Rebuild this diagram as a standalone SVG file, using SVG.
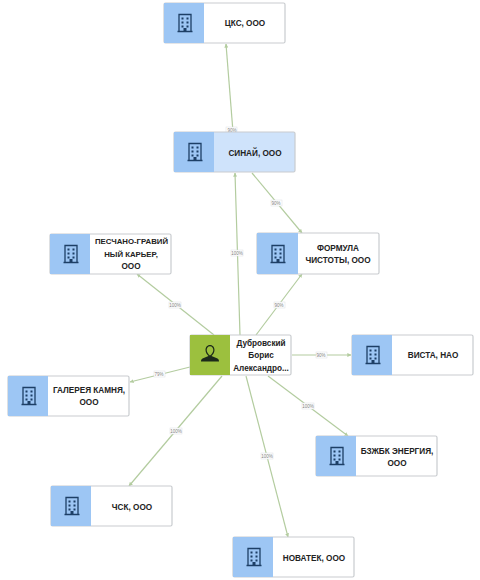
<svg xmlns="http://www.w3.org/2000/svg" width="480" height="580" viewBox="0 0 480 580">
<style>
.box{fill:#fff;stroke:#c9cccf;stroke-width:1.2}
.sel{fill:#cfe3fb}
.pane{fill:#9dc6f4}
.pers{fill:#9cc03e}
.t{font:bold 8.200px "Liberation Sans",Arial,sans-serif;fill:#222;text-anchor:middle}
.e{stroke:#b3cc9f;stroke-width:1.2;fill:none;marker-end:url(#a)}
.lb{fill:#fff;stroke:#dcdfe2;stroke-width:.5}
.lt{font:4.500px "Liberation Sans",Arial,sans-serif;fill:#808080;text-anchor:middle}
</style>
<defs>
<marker id="a" viewBox="0 0 6 6" refX="5.500" refY="3" markerWidth="4" markerHeight="4" markerUnits="userSpaceOnUse" orient="auto"><path d="M0 0L6 3L0 6z" fill="#b3cc9f"/></marker>
<symbol id="b" viewBox="0 0 16 20" overflow="visible">
<path d="M2 1.500h12v17h-12zM0.500 18.500h15" fill="none" stroke="#1d3f66" stroke-width="1.300"/>
<path d="M4.500 4.500h2v2h-2zM9.500 4.500h2v2h-2zM4.500 8.500h2v2h-2zM9.500 8.500h2v2h-2zM4.500 12.500h2v2h-2zM9.500 12.500h2v2h-2z" fill="#1d3f66"/>
<path d="M6.500 18v-3h3v3" fill="#1d3f66"/>
</symbol>
</defs>
<rect width="480" height="580" fill="#fff"/>
<g id="connectors">
<path class="e" d="M233 132L226 44"/>
<path class="e" d="M240 335L235 173"/>
<path class="e" d="M252 173L302 233"/>
<path class="e" d="M256 335L302 274"/>
<path class="e" d="M214 335L137 274"/>
<path class="e" d="M190 367L130 382"/>
<path class="e" d="M292 355L351 355"/>
<path class="e" d="M268 376L348 436"/>
<path class="e" d="M222 376L129 486"/>
<path class="e" d="M246 376L288 537"/>
<g>
<rect class="lb" x="226" y="127" width="11" height="6"/><text class="lt" x="232" y="131.500">90%</text>
<rect class="lb" x="231" y="250" width="12" height="6"/><text class="lt" x="237" y="254.500">100%</text>
<rect class="lb" x="271" y="200" width="11" height="6"/><text class="lt" x="276" y="204.500">90%</text>
<rect class="lb" x="274" y="302" width="11" height="6"/><text class="lt" x="279" y="306.500">90%</text>
<rect class="lb" x="169" y="302" width="12" height="6"/><text class="lt" x="175" y="306.500">100%</text>
<rect class="lb" x="154" y="371" width="11" height="6"/><text class="lt" x="159" y="375.500">79%</text>
<rect class="lb" x="316" y="352" width="11" height="6"/><text class="lt" x="321" y="356.500">90%</text>
<rect class="lb" x="302" y="403" width="12" height="6"/><text class="lt" x="308" y="407.500">100%</text>
<rect class="lb" x="170" y="428" width="12" height="6"/><text class="lt" x="176" y="432.500">100%</text>
<rect class="lb" x="261" y="453" width="12" height="6"/><text class="lt" x="267" y="457.500">100%</text>
</g>
</g>
<g id="n-cks"><rect class="box" x="164" y="3" width="121" height="40" rx="1.500"/><rect class="pane" x="164" y="3" width="40" height="40"/><use href="#b" x="177" y="13" width="16" height="20"/><text class="t" x="245" y="26">ЦКС, ООО</text></g>
<g id="n-sinai"><rect class="box sel" x="174" y="132" width="121" height="40" rx="1.500"/><rect class="pane" x="174" y="132" width="40" height="40"/><use href="#b" x="187" y="142" width="16" height="20"/><text class="t" x="255" y="156">СИНАЙ, ООО</text></g>
<g id="n-pesch"><rect class="box" x="50" y="234" width="121" height="40" rx="1.500"/><rect class="pane" x="50" y="234" width="40" height="40"/><use href="#b" x="63" y="244" width="16" height="20"/><text class="t" x="131.500" y="244" style="font-size:7.800px">ПЕСЧАНО-ГРАВИЙ</text><text class="t" x="131" y="256.500" style="font-size:7.800px">НЫЙ КАРЬЕР,</text><text class="t" x="131" y="269">ООО</text></g>
<g id="n-formula"><rect class="box" x="257" y="233" width="122" height="41" rx="1.500"/><rect class="pane" x="257" y="233" width="41" height="41"/><use href="#b" x="270" y="244" width="16" height="20"/><text class="t" x="338" y="251">ФОРМУЛА</text><text class="t" x="338" y="263">ЧИСТОТЫ, ООО</text></g>
<g id="n-person"><rect class="box" x="190" y="335" width="101" height="40" rx="1.500"/><rect class="pers" x="190" y="335" width="40" height="40"/><path fill-rule="evenodd" d="M210 345c-3 0-4.500 2.500-4.500 5s1.500 4.500 3 6l-6 2.500c-1.500.6-1.500 2.500-1.500 3h18c0-.5 0-2.400-1.500-3l-6-2.500c1.500-1.500 3-3.500 3-6s-1.500-5-4.500-5zm0 1.200c2.200 0 3.300 2 3.300 3.800s-1.500 4.500-3.300 5.500c-1.800-1-3.300-3.700-3.300-5.500s1.100-3.800 3.300-3.800z" fill="#1c2a1a"/><text class="t" x="261" y="346">Дубровский</text><text class="t" x="261" y="358">Борис</text><text class="t" x="261" y="371">Александро...</text></g>
<g id="n-vista"><rect class="box" x="352" y="335" width="121" height="40" rx="1.500"/><rect class="pane" x="352" y="335" width="40" height="40"/><use href="#b" x="365" y="345" width="16" height="20"/><text class="t" x="433" y="358">ВИСТА, НАО</text></g>
<g id="n-galereya"><rect class="box" x="8" y="376" width="121" height="40" rx="1.500"/><rect class="pane" x="8" y="376" width="40" height="40"/><use href="#b" x="21" y="386" width="16" height="20"/><text class="t" x="89" y="393">ГАЛЕРЕЯ КАМНЯ,</text><text class="t" x="89" y="405">ООО</text></g>
<g id="n-bzhbk"><rect class="box" x="316" y="436" width="121" height="40" rx="1.500"/><rect class="pane" x="316" y="436" width="40" height="40"/><use href="#b" x="329" y="446" width="16" height="20"/><text class="t" x="397" y="454">БЗЖБК ЭНЕРГИЯ,</text><text class="t" x="397" y="466">ООО</text></g>
<g id="n-chsk"><rect class="box" x="51" y="486" width="121" height="40" rx="1.500"/><rect class="pane" x="51" y="486" width="40" height="40"/><use href="#b" x="64" y="496" width="16" height="20"/><text class="t" x="132" y="510">ЧСК, ООО</text></g>
<g id="n-novatek"><rect class="box" x="233" y="537" width="121" height="40" rx="1.500"/><rect class="pane" x="233" y="537" width="40" height="40"/><use href="#b" x="246" y="547" width="16" height="20"/><text class="t" x="314" y="561">НОВАТЕК, ООО</text></g>
</svg>
